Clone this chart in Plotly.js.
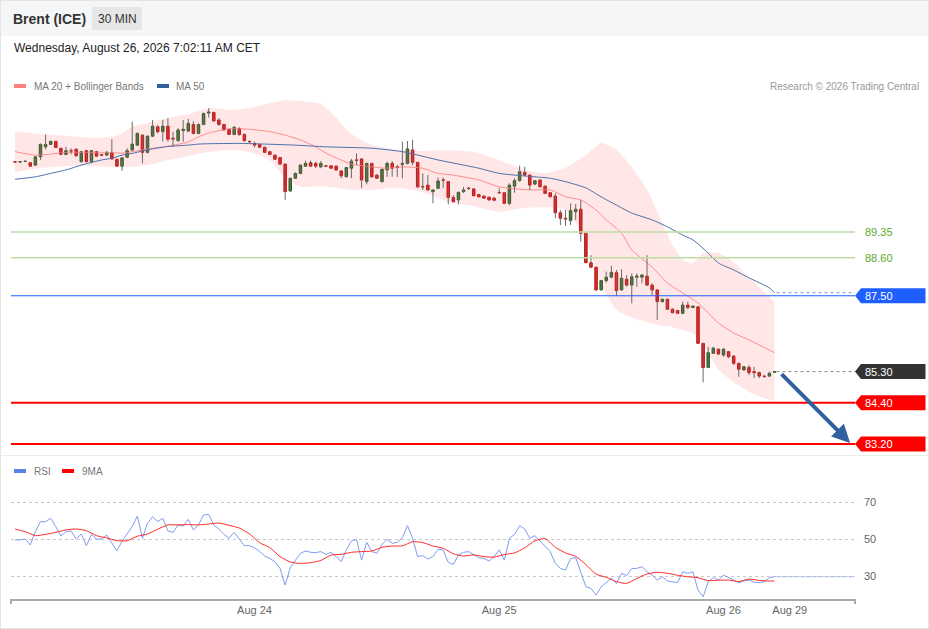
<!DOCTYPE html>
<html><head><meta charset="utf-8">
<script src="https://cdn.plot.ly/plotly-3.0.1.min.js"></script>
<style>html,body{margin:0;padding:0;background:#fff;}#chart{width:929px;height:629px;}</style>
</head><body><div id="chart"></div>
<script>
// ---------- DATA ----------
const candleOpen = [
91.39,91.38,91.40,91.36,91.29,91.53,91.82,91.89,91.98,91.78,
91.60,91.71,91.75,91.39,91.71,91.39,91.68,91.60,91.58,91.65,
91.46,91.26,91.52,91.73,91.87,92.16,91.66,92.13,92.40,92.26,
92.42,92.07,92.00,92.29,92.28,92.47,92.21,92.47,92.80,92.82,
92.60,92.47,92.33,92.18,92.36,92.18,91.98,91.92,91.89,91.81,
91.68,91.58,91.51,91.32,90.54,90.91,91.05,91.26,91.36,91.34,
91.24,91.27,91.27,91.26,91.12,90.95,91.20,91.44,91.47,90.81,
91.34,91.00,90.81,91.15,91.34,91.24,91.31,91.34,91.73,91.37,
90.67,90.71,90.52,90.62,90.86,90.81,90.35,90.28,90.52,90.62,
90.60,90.44,90.39,90.36,90.33,90.50,90.49,90.18,90.68,90.84,
91.08,91.00,90.74,90.86,90.68,90.49,90.39,89.91,89.75,89.68,
89.94,90.01,89.31,88.46,88.33,87.67,87.94,88.04,88.17,87.67,
87.98,87.81,88.04,88.04,88.07,87.81,87.67,87.33,87.40,87.11,
87.07,86.99,87.23,87.16,87.18,86.12,85.42,85.83,85.95,85.78,
85.88,85.75,85.54,85.35,85.42,85.30,85.27,85.17,85.17,85.28];
const candleHigh = [
91.41,91.41,91.42,91.37,91.55,91.92,92.18,92.00,91.99,91.79,
91.82,91.78,91.78,91.70,91.73,91.73,91.70,91.61,91.70,92.04,
91.47,91.53,91.78,92.55,92.24,92.18,92.15,92.60,92.45,92.60,
92.65,92.26,92.36,92.60,92.63,92.57,92.50,92.81,92.94,92.83,
92.65,92.48,92.34,92.41,92.38,92.21,92.00,91.97,91.90,91.82,
91.70,91.59,91.53,91.33,90.92,91.08,91.31,91.42,91.42,91.39,
91.41,91.29,91.29,91.28,91.15,91.24,91.47,91.63,91.48,91.36,
91.35,91.02,91.18,91.39,91.41,91.29,91.97,91.99,92.02,91.38,
91.05,91.00,90.58,90.93,90.93,90.83,90.42,90.52,90.66,90.66,
90.61,90.45,90.41,90.37,90.37,90.62,90.51,90.76,90.91,91.27,
91.24,91.02,90.86,90.87,90.70,90.51,90.47,89.99,89.99,90.18,
90.16,90.28,89.32,88.68,88.34,87.96,88.20,88.37,88.25,88.27,
88.10,88.15,88.15,88.13,88.68,87.86,87.68,87.42,87.42,87.14,
87.09,87.33,87.33,87.22,87.20,86.13,86.02,86.02,85.97,85.98,
85.89,85.78,85.56,85.46,85.49,85.44,85.30,85.20,85.30,85.31];
const candleLow = [
91.37,91.36,91.38,91.24,91.27,91.44,91.75,91.87,91.79,91.58,
91.58,91.60,91.54,91.36,91.37,91.34,91.53,91.55,91.55,91.45,
91.25,91.13,91.49,91.70,91.84,91.34,91.63,92.11,92.21,91.97,
91.97,91.82,91.97,91.97,92.24,92.18,92.19,92.45,92.67,92.56,
92.43,92.29,92.16,92.16,92.14,91.97,91.93,91.80,91.79,91.64,
91.58,91.44,91.29,90.28,90.52,90.89,91.03,91.24,91.24,91.20,
91.20,91.24,91.18,91.13,90.91,90.94,90.91,91.29,90.63,90.73,
90.93,90.89,90.79,90.95,90.95,90.95,90.91,91.31,91.29,90.62,
90.57,90.54,90.18,90.59,90.62,90.15,90.20,90.15,90.48,90.57,
90.39,90.36,90.31,90.26,90.25,90.45,90.16,90.13,90.49,90.81,
90.97,90.57,90.71,90.65,90.45,90.36,89.75,89.55,89.53,89.55,
89.70,89.07,88.44,88.30,87.64,87.65,87.88,88.01,87.49,87.65,
87.76,87.28,87.76,87.86,87.78,87.52,86.80,87.31,87.09,86.99,
86.97,86.97,87.11,87.14,86.10,84.99,85.40,85.81,85.78,85.73,
85.69,85.49,85.15,85.32,85.20,85.11,85.11,85.12,85.15,85.26];
const candleClose = [
91.38,91.39,91.40,91.26,91.53,91.89,91.89,91.98,91.80,91.60,
91.71,91.70,91.56,91.68,91.39,91.71,91.55,91.58,91.66,91.47,
91.26,91.50,91.71,91.90,92.21,91.66,92.13,92.42,92.26,92.42,
92.04,92.05,92.31,92.33,92.50,92.21,92.47,92.79,92.83,92.57,
92.47,92.31,92.18,92.39,92.18,92.00,91.97,91.87,91.81,91.66,
91.60,91.46,91.32,90.52,90.91,91.05,91.29,91.34,91.26,91.26,
91.34,91.26,91.20,91.15,90.98,91.22,91.41,91.43,90.86,91.34,
90.95,90.91,91.17,91.34,91.20,91.22,91.34,91.76,91.37,90.66,
90.66,90.57,90.57,90.83,90.85,90.35,90.23,90.50,90.57,90.61,
90.40,90.37,90.33,90.28,90.27,90.49,90.18,90.71,90.84,91.10,
91.00,90.71,90.84,90.66,90.47,90.37,89.91,89.75,89.73,89.97,
90.01,89.31,88.46,88.33,87.67,87.94,88.04,88.18,87.65,88.01,
87.81,88.05,88.07,88.10,87.81,87.67,87.33,87.40,87.11,87.01,
86.99,87.23,87.16,87.20,86.12,85.42,85.85,85.98,85.81,85.95,
85.73,85.54,85.37,85.44,85.27,85.27,85.17,85.16,85.25,85.30];

// Bollinger bands (MA20 +/- bands) read at these candle positions
const bandIdx = [0,5,10,15,20,23,26,30,34,38,42,46,50,53,56,60,63,66,70,75,80,85,90,95,100,104,108,112,115,118,121,124,127,129,131,133,135,138,141,144,147,149];
const bandUpper = [92.28,92.19,92.14,92.08,92.14,92.40,92.51,92.66,92.77,92.95,92.89,92.95,93.09,93.18,93.15,93.06,92.66,92.19,91.87,91.73,91.70,91.73,91.67,91.44,91.15,91.06,91.21,91.58,91.93,91.73,91.24,90.57,89.64,88.97,88.54,88.45,88.74,88.74,88.48,88.02,87.61,87.32];
const bandLower = [91.09,91.21,91.26,91.26,91.24,91.24,91.29,91.44,91.55,91.67,91.73,91.67,91.44,90.92,90.66,90.68,90.63,90.57,90.57,90.63,90.51,90.22,90.10,89.93,90.05,90.07,89.99,89.12,87.81,87.09,86.86,86.74,86.62,86.59,86.51,86.42,86.07,85.35,85.00,84.71,84.53,84.45];

const ma20Idx = [0,4,7,10,13,17,21,23,25,27,30,34,36,38,42,46,50,53,56,59,61,63,66,70,73,76,80,83,86,91,95,101,105,108,111,114,116,119,121,125,128,131,134,138,141,144,149];
const ma20Val = [91.68,91.58,91.61,91.66,91.66,91.66,91.64,91.68,91.73,91.78,91.84,91.96,92.11,92.22,92.34,92.33,92.26,92.16,92.02,91.82,91.64,91.50,91.32,91.24,91.20,91.24,91.20,91.05,91.00,90.86,90.66,90.57,90.57,90.37,90.28,89.99,89.70,89.32,88.83,88.33,87.87,87.58,87.29,86.71,86.42,86.22,85.85];

const ma50Idx = [0,4,7,10,13,17,19,21,23,25,27,30,34,36,38,44,49,55,61,70,76,83,91,95,102,105,108,112,115,118,121,125,128,131,133,136,138,141,144,148,149];
const ma50Val = [90.88,90.95,91.05,91.15,91.29,91.44,91.49,91.58,91.63,91.70,91.76,91.83,91.87,91.90,91.91,91.92,91.90,91.87,91.82,91.78,91.68,91.44,91.20,91.05,90.95,90.91,90.81,90.63,90.37,90.13,89.90,89.70,89.50,89.26,89.12,88.74,88.45,88.25,88.02,87.73,87.59];

const rsiVal = [
49.5,49.5,50,46.8,54,59.4,59.4,61.2,56.7,51.6,
54,54.3,50,52.7,46.4,52.5,50,50,52.2,48.2,
43.5,48.9,53.1,56.7,62.4,50.4,58.5,62.1,59.4,61.2,
54.3,53.6,57.6,57,60.6,54.9,57.6,63,63.3,57.6,
55.4,52.5,50.4,53.6,50,46.4,46.4,45.3,43.2,40.8,
39.5,37.7,34.1,25.1,34.5,38.6,42.3,43.5,42.8,42.6,
43.2,41.7,42.8,40.5,37.7,44.1,48.9,49.8,38.6,48.2,
43.2,42.3,47.1,49.8,47.7,48.2,50.7,57.2,50.4,40.5,
41,39.2,40.5,44.4,44.1,37.4,36.3,41.4,42.8,43.2,
41.4,39.9,39.5,38.1,40.5,44.1,38.6,50.4,52.5,57.2,
55.4,50.4,51.8,48.9,45.9,43.2,36.8,34.1,33.2,39.5,
39.9,32.3,24.2,23.3,19.7,24.2,26.6,28.7,26,31.4,
30.2,34.1,34.1,35,32.3,30.5,27.8,29.6,27.3,26.9,
26.4,32.3,31.4,32.3,22.4,18.8,26.9,29.1,27.8,30.5,
29.1,27.8,26.4,27.3,27.8,26.6,26.4,26.9,29.1,29.6];

const ma9Idx = [0,2,4,6,8,10,12,14,16,18,20,22,24,26,28,30,32,34,36,38,40,42,44,46,48,50,52,54,56,58,60,62,64,66,68,70,72,74,76,78,80,82,84,86,88,90,92,94,96,98,100,102,104,106,108,110,112,114,116,118,120,122,124,126,128,130,132,134,136,138,140,142,144,146,148,149];
const ma9Val = [55.4,54,51.8,52.5,53.6,54.9,55.4,54.5,51.8,50.6,49.1,49.1,51.5,52.7,55.3,57.6,57.6,57.8,57.6,58.1,58.6,57.4,55.9,52.8,48,45.3,40.5,37.6,36.8,37.2,38.4,41.3,41.7,42.8,43.2,43.5,45.5,46.2,46.3,48.5,48.1,46.2,45,42,40.8,41.4,40.5,40.2,41.6,42.5,45.2,49,50.2,45.5,42.5,40.6,36.2,31,29.3,27,26,28.7,31.1,32,31.5,30.4,29.6,29.1,27.5,27.7,27.8,27,28.3,27.6,27.3,27.3];

const tickPos = [47, 95, 139, 152];
const tickText = ['Aug 24', 'Aug 25', 'Aug 26', 'Aug 29'];
const rsiTicks = [30, 50, 70];

const resistanceLevels = [89.35, 88.60];
const pivotLevel = 87.50;
const supportLevels = [84.40, 83.20];
const lastPrice = 85.30;

// ---------- LAYOUT HELPERS ----------
const W = 929, H = 629;
const px = v => v / W, py = v => 1 - v / H;
const FONT = 'Liberation Sans, Arial, sans-serif';
const n = candleOpen.length;
const idx = candleOpen.map((_, i) => i);
const xMin = -0.785, xMax = 164.8;
const pxPerPrice = 34.47;
const tagHalf = 7.5 / pxPerPrice;

// wicks
const wx = [], wy = [];
idx.forEach(i => { wx.push(i, i, null); wy.push(candleHigh[i], candleLow[i], null); });

const traces = [
  {type:'scatter', x:bandIdx, y:bandLower, mode:'lines', line:{width:0, color:'rgba(0,0,0,0)', shape:'spline', smoothing:0.5}, hoverinfo:'skip', xaxis:'x', yaxis:'y'},
  {type:'scatter', x:bandIdx, y:bandUpper, mode:'lines', line:{width:0, color:'rgba(0,0,0,0)', shape:'spline', smoothing:0.5}, fill:'tonexty', fillcolor:'rgba(255,70,70,0.13)', hoverinfo:'skip', xaxis:'x', yaxis:'y'},
  {type:'scatter', x:ma20Idx, y:ma20Val, mode:'lines', line:{width:1, color:'#ff8a8a', shape:'spline', smoothing:0.6}, xaxis:'x', yaxis:'y'},
  {type:'scatter', x:ma50Idx, y:ma50Val, mode:'lines', line:{width:1, color:'#4a70aa', shape:'spline', smoothing:0.6}, xaxis:'x', yaxis:'y'},
  {type:'scatter', x:wx, y:wy, mode:'lines', line:{width:1, color:'#6a6a6a'}, connectgaps:false, xaxis:'x', yaxis:'y'},
  {type:'candlestick', x:idx, open:candleOpen, close:candleClose,
   high:idx.map(i => Math.max(candleOpen[i], candleClose[i])),
   low:idx.map(i => Math.min(candleOpen[i], candleClose[i])),
   increasing:{fillcolor:'#2a7d2a', line:{color:'#1f5f1f', width:1}},
   decreasing:{fillcolor:'#ff0000', line:{color:'#e00000', width:1}},
   whiskerwidth:0, xaxis:'x', yaxis:'y'},
  {type:'scatter', x:idx, y:rsiVal, mode:'lines', line:{width:1, color:'#7f9cf0'}, xaxis:'x', yaxis:'y2'},
  {type:'scatter', x:ma9Idx, y:ma9Val, mode:'lines', line:{width:1, color:'#ff2a2a', shape:'spline', smoothing:0.6}, xaxis:'x', yaxis:'y2'}
];

const shapes = [
  {type:'rect', xref:'paper', yref:'paper', x0:0, x1:1, y0:py(36), y1:1, fillcolor:'#f5f6f8', line:{width:0}, layer:'below'},
  {type:'rect', xref:'paper', yref:'paper', x0:px(92), x1:px(142), y0:py(30), y1:py(7), fillcolor:'#e5e6e8', line:{width:0}, layer:'below'},
  {type:'rect', xref:'paper', yref:'paper', x0:px(0.5), x1:px(928.5), y0:py(628.5), y1:py(0.5), line:{color:'#e4e4e4', width:1}},
  {type:'line', xref:'paper', yref:'paper', x0:0, x1:1, y0:py(455.5), y1:py(455.5), line:{color:'#ececec', width:1}},
  {type:'rect', xref:'paper', yref:'paper', x0:px(14), x1:px(26), y0:py(88), y1:py(84), fillcolor:'#ff8080', line:{width:0}},
  {type:'rect', xref:'paper', yref:'paper', x0:px(157), x1:px(169), y0:py(88), y1:py(84), fillcolor:'#30609e', line:{width:0}},
  {type:'rect', xref:'paper', yref:'paper', x0:px(14), x1:px(26), y0:py(473), y1:py(469), fillcolor:'#5b82e6', line:{width:0}},
  {type:'rect', xref:'paper', yref:'paper', x0:px(62), x1:px(74), y0:py(473), y1:py(469), fillcolor:'#ff0000', line:{width:0}},
  {type:'line', xref:'paper', yref:'paper', x0:px(11), x1:px(11), y0:py(599), y1:py(604), line:{color:'#aaaaaa', width:2}},
  {type:'line', xref:'paper', yref:'paper', x0:px(855), x1:px(855), y0:py(599), y1:py(604), line:{color:'#aaaaaa', width:2}},
  {type:'line', xref:'x', yref:'y', x0:n - 1 + 0.4, x1:xMax, y0:ma50Val[ma50Val.length-1], y1:ma50Val[ma50Val.length-1], line:{color:'#7f9ccc', width:1, dash:'dot'}},
  {type:'line', xref:'x', yref:'y', x0:n - 1 + 0.4, x1:xMax, y0:lastPrice, y1:lastPrice, line:{color:'#888888', width:1, dash:'dot'}},
  {type:'line', xref:'x', yref:'y2', x0:n - 1 + 0.4, x1:xMax, y0:rsiVal[n-1], y1:rsiVal[n-1], line:{color:'#8fa8ee', width:1, dash:'dot'}}
];

resistanceLevels.forEach(v => shapes.push({type:'line', xref:'x', yref:'y', x0:xMin, x1:xMax, y0:v, y1:v, line:{color:'#bcdda3', width:1.5}}));
shapes.push({type:'line', xref:'x', yref:'y', x0:xMin, x1:xMax, y0:pivotLevel, y1:pivotLevel, line:{color:'#1a5cff', width:1}});
supportLevels.forEach(v => shapes.push({type:'line', xref:'x', yref:'y', x0:xMin, x1:xMax, y0:v, y1:v, line:{color:'#ff0000', width:2}}));

function tag(v, color) {
  const a = px(855), b = px(861), c = px(925.5);
  return {type:'path', xref:'paper', yref:'y',
    path:`M ${a},${v} L ${b},${v + tagHalf} L ${c},${v + tagHalf} L ${c},${v - tagHalf} L ${b},${v - tagHalf} Z`,
    fillcolor:color, line:{width:0}};
}
shapes.push(tag(pivotLevel, '#1f5fff'));
shapes.push(tag(lastPrice, '#333333'));
supportLevels.forEach(v => shapes.push(tag(v, '#ff0000')));

const annotations = [
  {text:'<b>Brent (ICE)</b>', x:px(11), y:py(18.5), xanchor:'left', yanchor:'middle', font:{size:14, color:'#333'}},
  {text:'30 MIN', x:px(117), y:py(18.5), xanchor:'center', yanchor:'middle', font:{size:12, color:'#333'}},
  {text:'Wednesday, August 26, 2026 7:02:11 AM CET', x:px(12), y:py(48), xanchor:'left', yanchor:'middle', font:{size:12, color:'#222'}},
  {text:'MA 20 + Bollinger Bands', x:px(32), y:py(86), xanchor:'left', yanchor:'middle', font:{size:10, color:'#777'}},
  {text:'MA 50', x:px(174), y:py(86), xanchor:'left', yanchor:'middle', font:{size:10, color:'#777'}},
  {text:'Research © 2026 Trading Central', x:px(921), y:py(86), xanchor:'right', yanchor:'middle', font:{size:10, color:'#999'}},
  {text:'RSI', x:px(32), y:py(471), xanchor:'left', yanchor:'middle', font:{size:10, color:'#777'}},
  {text:'9MA', x:px(80), y:py(471), xanchor:'left', yanchor:'middle', font:{size:10, color:'#777'}}
].map(a => Object.assign({xref:'paper', yref:'paper', showarrow:false}, a));

resistanceLevels.forEach(v => annotations.push({xref:'paper', yref:'y', x:px(863), y:v, xanchor:'left', yanchor:'middle', showarrow:false, text:v.toFixed(2), font:{size:11, color:'#5ea82c'}}));
[pivotLevel, lastPrice].concat(supportLevels).forEach(v => annotations.push({xref:'paper', yref:'y', x:px(863), y:v, xanchor:'left', yanchor:'middle', showarrow:false, text:v.toFixed(2), font:{size:11, color:'#ffffff'}}));

annotations.push({xref:'x', yref:'y', axref:'x', ayref:'y', x:163.85, y:supportLevels[1] + 0.03, ax:n - 1 + 1.1, ay:lastPrice - 0.03,
  showarrow:true, arrowhead:2, arrowsize:0.9, arrowwidth:4, arrowcolor:'#30609e', text:''});

const layout = {
  width:W, height:H, autosize:false,
  margin:{l:0, r:0, t:0, b:0, pad:0},
  paper_bgcolor:'#ffffff', plot_bgcolor:'rgba(0,0,0,0)',
  font:{family:FONT, color:'#666'},
  showlegend:false, hovermode:false,
  xaxis:{domain:[px(11), px(855)], range:[xMin, xMax], anchor:'y2', tickmode:'array', tickvals:tickPos, ticktext:tickText,
    ticks:'', tickfont:{size:11, color:'#666'}, showline:true, linecolor:'#aaaaaa', linewidth:2, showgrid:false, zeroline:false,
    rangeslider:{visible:false}, fixedrange:true, ticklabelstandoff:0},
  yaxis:{domain:[py(455), py(95)], range:[82.881, 93.324], showgrid:false, zeroline:false, showticklabels:false, showline:false, fixedrange:true},
  yaxis2:{domain:[py(599), py(456)], range:[17.57, 94.86], anchor:'x', side:'right', tickmode:'array', tickvals:rsiTicks,
    ticks:'', tickfont:{size:11, color:'#666'}, showgrid:true, gridcolor:'#c9c9c9', griddash:'dot', gridwidth:1,
    zeroline:false, showline:false, fixedrange:true, ticklabelstandoff:8},
  shapes:shapes, annotations:annotations
};

Plotly.newPlot('chart', traces, layout, {displayModeBar:false, staticPlot:true});
</script>
</body></html>
